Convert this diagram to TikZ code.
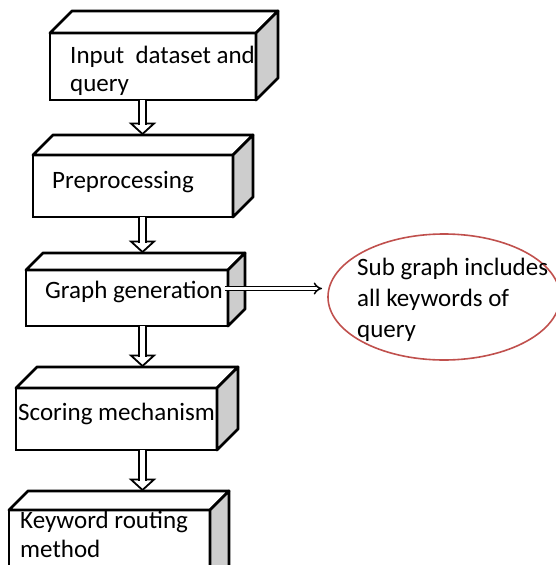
\documentclass[tikz,border=0pt]{standalone}
\usepackage{fontspec}
\setmainfont{Carlito}
\usetikzlibrary{arrows.meta,shapes.geometric,calc}
\definecolor{ered}{HTML}{C0504D}
\definecolor{sidegray}{RGB}{205,205,205}
\tikzset{
  front/.style={draw, line width=2.8pt, fill=white, inner sep=0pt, outer sep=0pt},
  face/.style={draw, line width=2.8pt, line join=round},
  txt/.style={anchor=base west, inner sep=0pt, font=\fontsize{25}{30}\selectfont, align=left},
  shaft/.style={double, double distance=5pt, line width=1.8pt},
  headst/.style={draw, fill=white, line width=1.8pt, line join=miter},
  sideflow/.style={double, double distance=2.5pt, line width=1.5pt, -{Implies[length=5pt,width=12pt]}},
  cloud/.style={ellipse, draw=ered, line width=1.6pt, inner sep=0pt, outer sep=0pt},
}
\newcommand\vflow[2]{%
  \draw[headst] ($(#2)+(-11.5,-10.5)$) -- (#2) -- ($(#2)+(11.5,-10.5)$) -- cycle;
  \draw[shaft] (#1) -- ($(#2)+(0,-9)$);
}
\begin{document}
\begin{tikzpicture}[x=1pt,y=-1pt]
\useasboundingbox (0,0) rectangle (556,565);
\coordinate (ax) at (142.5,0);

% Box 1
\node[front, minimum width=206pt, minimum height=67pt] (b1) at (153,66.5) {};
\draw[face, fill=white] (b1.north west) -- ++(22,-22) coordinate (b1t) -- ++(206,0) coordinate (b1r) -- (b1.north east) -- cycle;
\draw[face, fill=sidegray] (b1.north east) -- (b1r) -- ++(0,67) -- (b1.south east) -- cycle;
\node[txt] (t1) at (70,91) {Input\ \ dataset and\\[-2pt]query};

% Box 2
\node[front, minimum width=200pt, minimum height=62pt] (b2) at (133,186) {};
\draw[face, fill=white] (b2.north west) -- ++(20,-20) coordinate (b2t) -- ++(200,0) coordinate (b2r) -- (b2.north east) -- cycle;
\draw[face, fill=sidegray] (b2.north east) -- (b2r) -- ++(0,62) -- (b2.south east) -- cycle;
\node[txt] (t2) at (52,188) {Preprocessing};

% Box 3
\node[front, minimum width=202pt, minimum height=56pt] (b3) at (127,298) {};
\draw[face, fill=white] (b3.north west) -- ++(17,-17) coordinate (b3t) -- ++(202,0) coordinate (b3r) -- (b3.north east) -- cycle;
\draw[face, fill=sidegray] (b3.north east) -- (b3r) -- ++(0,56) -- (b3.south east) -- cycle;
\node[txt] (t3) at (45,298) {Graph generation};

% Box 4
\node[front, minimum width=201pt, minimum height=62pt] (b4) at (116.5,419) {};
\draw[face, fill=white] (b4.north west) -- ++(21,-21) coordinate (b4t) -- ++(201,0) coordinate (b4r) -- (b4.north east) -- cycle;
\draw[face, fill=sidegray] (b4.north east) -- (b4r) -- ++(0,62) -- (b4.south east) -- cycle;
\node[txt] (t4) at (18,420) {Scoring mechanism};

% Box 5
\node[front, minimum width=201pt, minimum height=80pt] (b5) at (109.5,550) {};
\draw[face, fill=white] (b5.north west) -- ++(19,-19) coordinate (b5t) -- ++(201,0) coordinate (b5r) -- (b5.north east) -- cycle;
\draw[face, fill=sidegray] (b5.north east) -- (b5r) -- ++(0,80) -- (b5.south east) -- cycle;
\node[txt] (t5) at (20,557) {Keyword routing\\[-1pt]method};

% Ellipse
\node[cloud, minimum width=232pt, minimum height=126pt] (e) at (444,297) {};
\node[txt] (te) at (357,337) {Sub graph includes\\[1pt]all keywords of\\[1pt]query};

% Arrows
\coordinate (a1s) at (b1.south -| ax); \coordinate (a1e) at ($(b2t -| ax)+(0,-1)$);
\coordinate (a2s) at (b2.south -| ax); \coordinate (a2e) at ($(b3t -| ax)+(0,-1)$);
\coordinate (a3s) at (b3.south -| ax); \coordinate (a3e) at ($(b4t -| ax)+(0,-1)$);
\coordinate (a4s) at (b4.south -| ax); \coordinate (a4e) at ($(b5t -| ax)+(0,-1)$);
\vflow{a1s}{a1e}
\vflow{a2s}{a2e}
\vflow{a3s}{a3e}
\vflow{a4s}{a4e}
\coordinate (hs) at ([xshift=-3pt,yshift=9.5pt]b3.east);
\draw[sideflow, shorten >=6pt] (hs) -- (hs -| e.west);
\end{tikzpicture}
\end{document}
